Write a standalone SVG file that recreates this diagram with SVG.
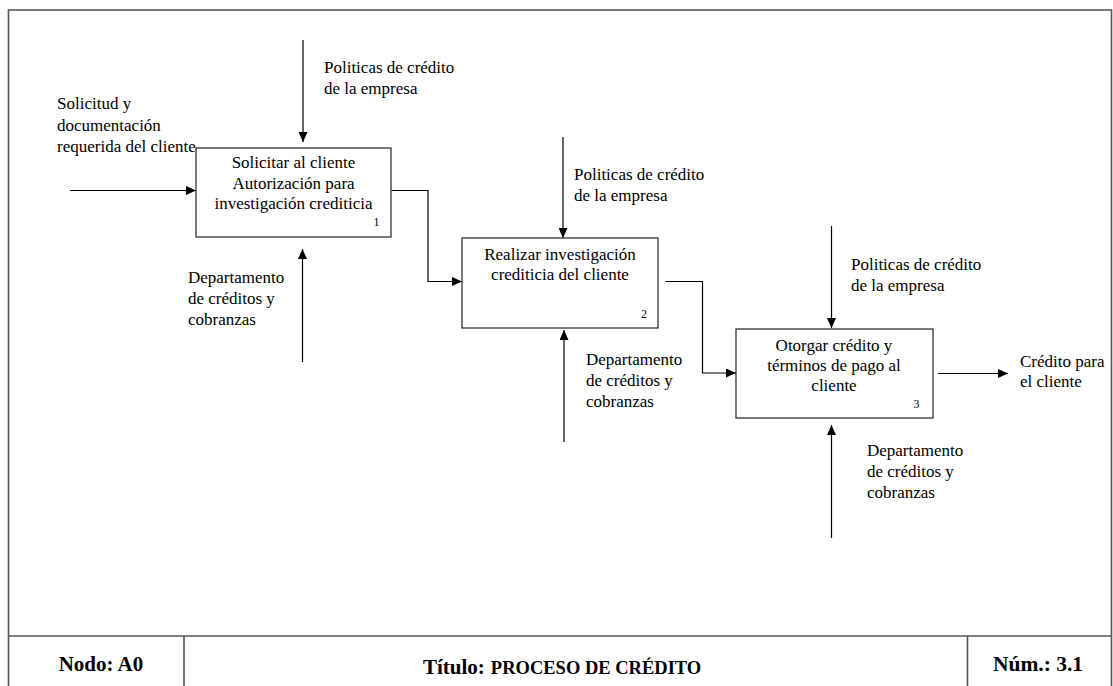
<svg xmlns="http://www.w3.org/2000/svg" width="1113" height="686" viewBox="0 0 1113 686">
<defs>
<style>
.t{font-size:17px;fill:#000}
.c{text-anchor:middle}
.n{font-size:12px;fill:#000}
.b{font-weight:bold;fill:#000}
.box{fill:#fff;stroke:#333;stroke-width:1.3}
.ln{fill:none;stroke:#000;stroke-width:1.2}
.fr{fill:none;stroke:#555;stroke-width:1.6}
</style>
<marker id="ah" markerUnits="userSpaceOnUse" markerWidth="11" markerHeight="9" refX="10" refY="4.5" orient="auto">
<path d="M0,0 L10,4.5 L0,9 z" fill="#000"/>
</marker>
</defs>
<rect width="1113" height="686" fill="#fff"/>
<g id="frame" font-family="Liberation Serif">
<rect class="fr" x="8.5" y="10" width="1103" height="690"/>
<line class="fr" x1="8.5" y1="636" x2="1111.5" y2="636"/>
<line class="fr" x1="184" y1="636" x2="184" y2="686"/>
<line class="fr" x1="967.5" y1="636" x2="967.5" y2="686" stroke="#222"/>
<text class="b" x="101" y="671" font-size="21" text-anchor="middle">Nodo: A0</text>
<text class="b" x="423" y="674"><tspan font-size="21">T&#237;tulo:</tspan><tspan font-size="18.5" dx="6">PROCESO DE CR&#201;DITO</tspan></text>
<text class="b" x="1038" y="671" font-size="21.5" text-anchor="middle">N&#250;m.: 3.1</text>
</g>
<g id="connectors">
<line class="ln" x1="303" y1="40" x2="303" y2="142" marker-end="url(#ah)"/>
<line class="ln" x1="70" y1="190.5" x2="196" y2="190.5" marker-end="url(#ah)"/>
<line class="ln" x1="302.5" y1="362" x2="302.5" y2="249" marker-end="url(#ah)"/>
<polyline class="ln" points="391.5,190.5 428,190.5 428,281.5 462,281.5" marker-end="url(#ah)"/>
<line class="ln" x1="563" y1="137" x2="563" y2="238" marker-end="url(#ah)"/>
<line class="ln" x1="564" y1="442" x2="564" y2="330" marker-end="url(#ah)"/>
<polyline class="ln" points="665.5,281.5 702.5,281.5 702.5,373 736,373" marker-end="url(#ah)"/>
<line class="ln" x1="831.5" y1="226" x2="831.5" y2="328" marker-end="url(#ah)"/>
<line class="ln" x1="831.5" y1="538" x2="831.5" y2="425" marker-end="url(#ah)"/>
<line class="ln" x1="938" y1="373.5" x2="1008" y2="373.5" marker-end="url(#ah)"/>
</g>
<g id="labels" font-family="Liberation Serif">
<text class="t" x="324" y="73">Politicas de cr&#233;dito</text>
<text class="t" x="324" y="94">de la empresa</text>
<text class="t" x="57" y="109">Solicitud y</text>
<text class="t" x="57" y="131">documentaci&#243;n</text>
<text class="t" x="57" y="152">requerida del cliente</text>
<text class="t" x="188" y="283">Departamento</text>
<text class="t" x="188" y="304">de cr&#233;ditos y</text>
<text class="t" x="188" y="325">cobranzas</text>
<text class="t" x="574" y="180">Politicas de cr&#233;dito</text>
<text class="t" x="574" y="201">de la empresa</text>
<text class="t" x="586" y="365">Departamento</text>
<text class="t" x="586" y="386">de cr&#233;ditos y</text>
<text class="t" x="586" y="407">cobranzas</text>
<text class="t" x="851" y="270">Politicas de cr&#233;dito</text>
<text class="t" x="851" y="291">de la empresa</text>
<text class="t" x="867" y="456">Departamento</text>
<text class="t" x="867" y="477">de cr&#233;ditos y</text>
<text class="t" x="867" y="498">cobranzas</text>
<text class="t" x="1020" y="367">Cr&#233;dito para</text>
<text class="t" x="1020" y="387">el cliente</text>
</g>
<g id="node1" font-family="Liberation Serif">
<rect class="box" x="196" y="148" width="195" height="89"/>
<text class="t c" x="293.5" y="168">Solicitar al cliente</text>
<text class="t c" x="293.5" y="189">Autorizaci&#243;n para</text>
<text class="t c" x="293.5" y="209">investigaci&#243;n crediticia</text>
<text class="n" x="373.5" y="226">1</text>
</g>
<g id="node2" font-family="Liberation Serif">
<rect class="box" x="462" y="238" width="196" height="90"/>
<text class="t c" x="560" y="260">Realizar investigaci&#243;n</text>
<text class="t c" x="560" y="280">crediticia del cliente</text>
<text class="n" x="641" y="318">2</text>
</g>
<g id="node3" font-family="Liberation Serif">
<rect class="box" x="736" y="329" width="197" height="89"/>
<text class="t c" x="834" y="351">Otorgar cr&#233;dito y</text>
<text class="t c" x="834" y="371">t&#233;rminos de pago al</text>
<text class="t c" x="834" y="391">cliente</text>
<text class="n" x="913.5" y="408">3</text>
</g>
</svg>
